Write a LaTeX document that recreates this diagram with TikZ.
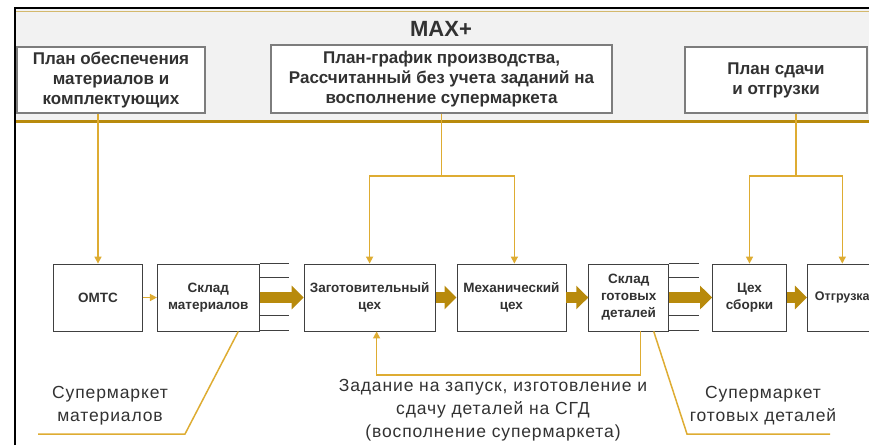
\documentclass[tikz,border=0pt]{standalone}
\usepackage{fontspec}
\setmainfont{Liberation Sans}
\usetikzlibrary{arrows.meta,positioning}

\definecolor{goldbar}{RGB}{184,138,12}
\definecolor{goldline}{RGB}{222,172,50}
\definecolor{headbg}{RGB}{242,242,242}
\definecolor{planedge}{RGB}{125,125,125}
\definecolor{inkgray}{RGB}{50,50,50}

\tikzset{
  planbox/.style={draw=planedge, line width=1.5pt, fill=white, inner sep=0pt,
                  align=center, text=inkgray,
                  font=\bfseries\fontsize{17}{20}\selectfont},
  procbox/.style={draw=black!75, line width=0.8pt, fill=white, inner sep=0pt,
                  minimum height=67pt, align=center, text=inkgray,
                  font=\bfseries\fontsize{13.5}{17}\selectfont},
  fatarrow/.style={draw=goldbar, line width=11pt,
                   -{Triangle[length=12pt,width=23pt]}},
  link/.style={draw=goldline, line width=1.5pt},
  linkarrow/.style={link, -{Triangle[length=7pt,width=7pt]}},
  note/.style={align=center, text=inkgray,
               font=\addfontfeatures{LetterSpace=5}\fontsize{17.5}{23}\selectfont},
}

\begin{document}
\begin{tikzpicture}[x=1pt,y=-1pt]
  \useasboundingbox (0,0) rectangle (869,445);
  \clip (0,0) rectangle (869,445);

  % header band
  \fill[headbg] (15,9) rectangle (869,121);
  \draw[goldbar, line width=2.5pt] (15,121.5) -- (869,121.5);
  \draw[black, line width=2.5pt] (15,445) -- (15,8) -- (869,8);
  \draw[goldbar!60, line width=0.8pt] (16,11.5) -- (869,11.5);

  \node[text=inkgray, font=\bfseries\fontsize{22}{24}\selectfont] (maxplus) at (441,29) {MAX+};

  \node[planbox, minimum width=188pt, minimum height=66pt] (planmat)  at (111,80)
       {План обеспечения\\материалов и\\комплектующих};
  \node[planbox, minimum width=341pt, minimum height=68pt] (plangraf) at (441.5,79)
       {План-график производства,\\Рассчитанный без учета заданий на\\восполнение супермаркета};
  \node[planbox, minimum width=182pt, minimum height=66pt] (planship) at (776,80)
       {План сдачи\\и отгрузки};

  % process row
  \node[procbox, minimum width=89pt]                    (omts)   at (98,297.5) {ОМТС};
  \node[procbox, minimum width=102pt, right=14pt of omts]   (sklmat) {Склад\\материалов};
  \node[procbox, minimum width=131pt, right=44pt of sklmat] (zag)    {Заготовительный\\цех};
  \node[procbox, minimum width=109pt, right=21pt of zag]    (mech)   {Механический\\цех};
  \node[procbox, minimum width=80pt,  right=22pt of mech]   (sgd)    {Склад\\готовых\\деталей};
  \node[procbox, minimum width=74pt,  right=43pt of sgd]    (assy)   {Цех\\сборки};
  \node[procbox, minimum width=70pt,  right=20pt of assy,
        font=\bfseries\fontsize{12.5}{17}\selectfont]       (ship)   {Отгрузка};

  % supermarket racks
  \foreach \yy in {0,14,52,67} {
    \draw[black!75, line width=0.8pt] (sklmat.north east) ++(0,\yy) -- ++(29,0);
    \draw[black!75, line width=0.8pt] (sgd.north east) ++(0,\yy) -- ++(30,0);
  }

  % material flow
  \draw[fatarrow] (sklmat.east) -- (zag.west);
  \draw[fatarrow] (zag.east)    -- (mech.west);
  \draw[fatarrow] (mech.east)   -- (sgd.west);
  \draw[fatarrow] (sgd.east)    -- (assy.west);
  \draw[fatarrow] (assy.east)   -- (ship.west);
  \draw[linkarrow] (omts.east)  -- (sklmat.west);

  % planning links
  \draw[linkarrow] (omts.north |- planmat.south) -- (omts.north);

  \draw[link] (plangraf.south) -- ++(0,62) coordinate (gj);
  \draw[linkarrow] (gj) -| (zag.north);
  \draw[linkarrow] (gj) -| ([xshift=3pt]mech.north);

  \coordinate (psout) at ([xshift=20pt]planship.south);
  \draw[link] (psout) -- ++(0,62) coordinate (sj);
  \draw[linkarrow] (sj) -| (assy.north);
  \draw[linkarrow] (sj) -| (ship.north);

  % replenishment task
  \coordinate (sgdout) at ([xshift=12pt]sgd.south);
  \coordinate (zagin)  at ([xshift=7pt]zag.south);
  \coordinate (fb)     at (0,375);
  \draw[linkarrow] (sgdout) -- (sgdout |- fb) -| (zagin);

  % callouts
  \coordinate (lmknee) at (185,434);
  \coordinate (lmend)  at (38,434);
  \draw[link] ([xshift=30pt]sklmat.south) -- (lmknee) -- (lmend);
  \coordinate (lfknee) at (687,434);
  \coordinate (lfend)  at (830,434);
  \draw[link] ([xshift=25pt]sgd.south) -- (lfknee) -- (lfend);

  \node[note] (supmat)  at (110,406) {Супермаркет\\материалов};
  \node[note] (task)    at (493,410) {Задание на запуск, изготовление и\\сдачу деталей на СГД\\(восполнение супермаркета)};
  \node[note] (supfin)  at (763,406) {Супермаркет\\готовых деталей};
\end{tikzpicture}
\end{document}
